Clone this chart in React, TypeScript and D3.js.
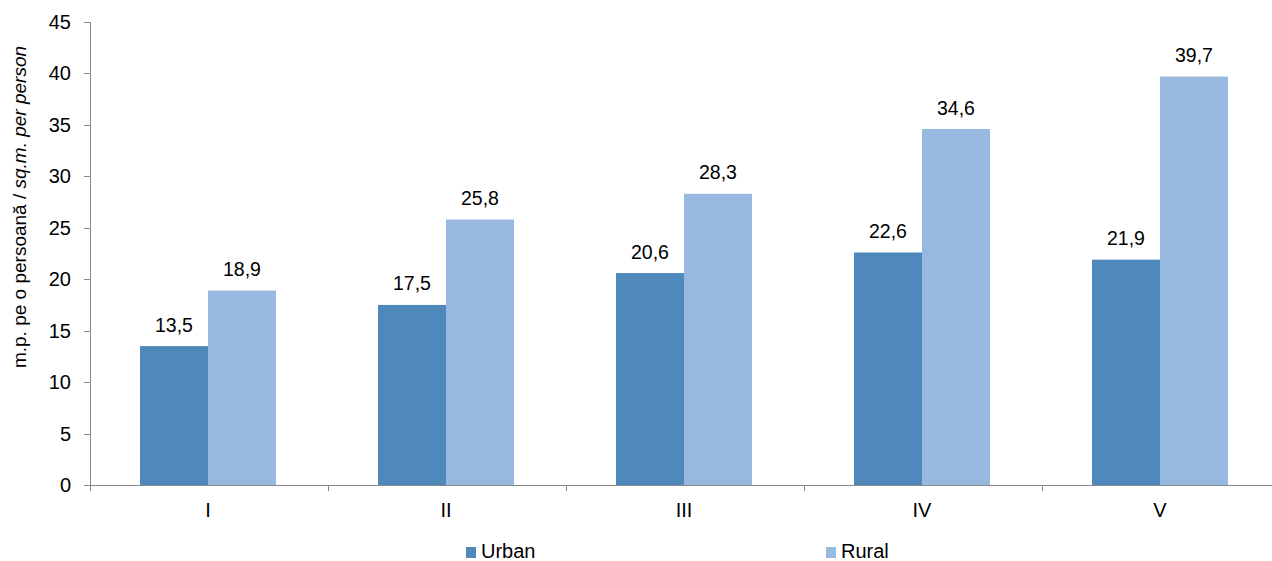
import React from "react";
import * as d3 from "d3";

const categories = ["I", "II", "III", "IV", "V"];
const seriesNames = ["Urban", "Rural"];
const urban = [13.5, 17.5, 20.6, 22.6, 21.9];
const rural = [18.9, 25.8, 28.3, 34.6, 39.7];
const yTicks = [0, 5, 10, 15, 20, 25, 30, 35, 40, 45];
const colors = ["#4F88BB", "#97B9DF"];

const W = 1272;
const H = 561;
const left = 90;
const right = 1280;
const top = 22;
const bottom = 485;

export default function App() {
  const x = d3.scaleBand<string>().domain(categories).range([left, right]).paddingInner(0).paddingOuter(0);
  const inner = d3.scaleBand<string>().domain(seriesNames).range([0, x.bandwidth()]).paddingInner(0).paddingOuter(0.75);
  const y = d3.scaleLinear().domain([0, 45]).range([bottom, top]);
  const series = [urban, rural];
  const fmt = (v: number) => v.toFixed(1).replace(".", ",");
  const font = "Liberation Sans, Arial, sans-serif";
  const axisColor = "#898989";
  const boundaries = [...categories.map((c) => x(c)!), right];

  return (
    <svg width={W} height={H} style={{ position: "absolute", left: 0, top: 0, background: "#fff" }} fontFamily={font}>
      {/* bars */}
      {categories.map((c, i) =>
        seriesNames.map((s, j) => {
          const v = series[j][i];
          const bx = x(c)! + inner(s)! - 1;
          return (
            <g key={c + s}>
              <rect x={bx} y={y(v)} width={inner.bandwidth()} height={bottom - y(v)} fill={colors[j]} />
              <text x={bx + inner.bandwidth() / 2} y={y(v) - 14.5} textAnchor="middle" fontSize={19.5} fill="#000">
                {fmt(v)}
              </text>
            </g>
          );
        })
      )}
      {/* y axis */}
      <line x1={left + 0.5} x2={left + 0.5} y1={top} y2={bottom} stroke={axisColor} />
      {yTicks.map((t) => (
        <g key={t}>
          <line x1={left - 6} x2={left} y1={Math.round(y(t)) + 0.5} y2={Math.round(y(t)) + 0.5} stroke={axisColor} />
          <text x={left - 19} y={y(t) + 7} textAnchor="end" fontSize={20} fill="#000">
            {t}
          </text>
        </g>
      ))}
      {/* x axis */}
      <line x1={left} x2={right} y1={bottom + 0.5} y2={bottom + 0.5} stroke={axisColor} />
      {boundaries.map((b, i) => (
        <line key={i} x1={Math.round(b) + 0.5} x2={Math.round(b) + 0.5} y1={bottom} y2={bottom + 6} stroke={axisColor} />
      ))}
      {categories.map((c) => (
        <text key={c} x={x(c)! + x.bandwidth() / 2 - 1} y={517} textAnchor="middle" fontSize={20} fill="#000">
          {c}
        </text>
      ))}
      {/* y title */}
      <text transform={`translate(26, 207) rotate(-90)`} textAnchor="middle" fontSize={19} fill="#000">
        m.p. pe o persoană / <tspan fontStyle="italic">sq.m. per person</tspan>
      </text>
      {/* legend */}
      {seriesNames.map((s, j) => {
        const lx = j === 0 ? 466 : 826;
        return (
          <g key={s}>
            <rect x={lx} y={547} width={10} height={11} fill={colors[j]} />
            <text x={lx + 15} y={558} fontSize={20} fill="#000">
              {s}
            </text>
          </g>
        );
      })}
    </svg>
  );
}
